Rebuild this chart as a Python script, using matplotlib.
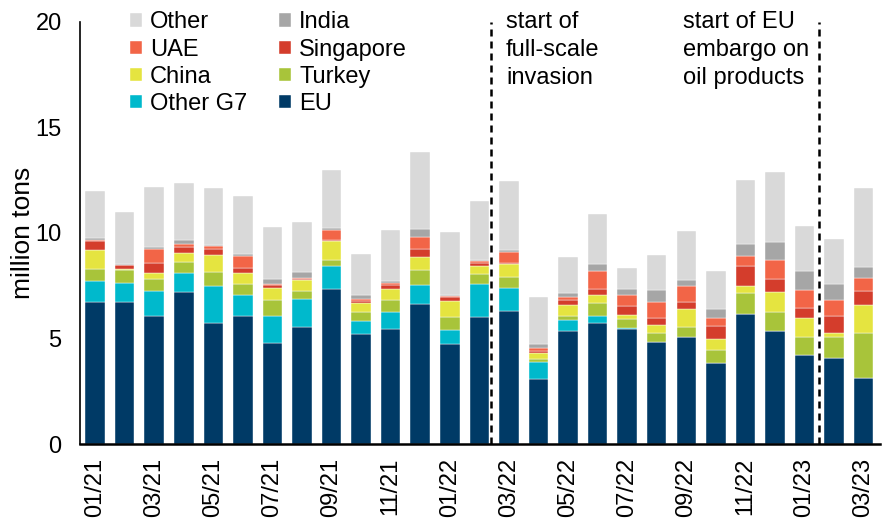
import matplotlib
matplotlib.use("Agg")
import matplotlib.pyplot as plt
import numpy as np

plt.rcParams['font.family'] = ['Liberation Sans', 'DejaVu Sans']
plt.rcParams['font.size'] = 17

months = ["01/21", "02/21", "03/21", "04/21", "05/21", "06/21", "07/21", "08/21", "09/21",
          "10/21", "11/21", "12/21", "01/22", "02/22", "03/22", "04/22", "05/22", "06/22",
          "07/22", "08/22", "09/22", "10/22", "11/22", "12/22", "01/23", "02/23", "03/23"]

# million tons, stacked bottom to top
eu = [6.73, 6.75, 6.08, 7.22, 5.75, 6.08, 4.77, 5.55, 7.36, 5.23, 5.46, 6.62, 4.75, 6.02,
      6.32, 3.08, 5.36, 5.75, 5.45, 4.82, 5.06, 3.82, 6.16, 5.36, 4.23, 4.06, 3.13]
other_g7 = [0.99, 0.9, 1.19, 0.87, 1.75, 0.97, 1.31, 1.32, 1.08, 0.6, 0.81, 0.9, 0.67, 1.56,
            1.07, 0.81, 0.52, 0.33, 0.05, 0.0, 0.0, 0.0, 0.0, 0.0, 0.0, 0.0, 0.0]
turkey = [0.57, 0.6, 0.56, 0.55, 0.64, 0.52, 0.74, 0.38, 0.28, 0.44, 0.55, 0.73, 0.58, 0.49,
          0.54, 0.12, 0.2, 0.6, 0.44, 0.45, 0.5, 0.63, 1.0, 0.9, 0.83, 1.03, 2.13]
china = [0.9, 0.03, 0.29, 0.4, 0.82, 0.55, 0.57, 0.52, 0.9, 0.43, 0.51, 0.6, 0.78, 0.37,
         0.62, 0.29, 0.49, 0.4, 0.17, 0.37, 0.84, 0.51, 0.33, 0.94, 0.9, 0.17, 1.33]
singapore = [0.44, 0.2, 0.47, 0.28, 0.27, 0.21, 0.13, 0.05, 0.05, 0.08, 0.21, 0.41, 0.2, 0.12,
             0.05, 0.11, 0.27, 0.25, 0.44, 0.35, 0.34, 0.63, 0.95, 0.63, 0.47, 0.81, 0.68]
uae = [0.05, 0.0, 0.65, 0.14, 0.15, 0.58, 0.06, 0.05, 0.47, 0.08, 0.09, 0.55, 0.02, 0.09,
       0.5, 0.15, 0.11, 0.87, 0.51, 0.75, 0.75, 0.4, 0.47, 0.89, 0.88, 0.77, 0.58]
india = [0.1, 0.05, 0.11, 0.21, 0.05, 0.09, 0.25, 0.28, 0.1, 0.21, 0.1, 0.36, 0.08, 0.05,
         0.09, 0.19, 0.21, 0.33, 0.29, 0.56, 0.3, 0.41, 0.55, 0.87, 0.9, 0.74, 0.52]
other = [2.2, 2.45, 2.85, 2.71, 2.72, 2.75, 2.47, 2.35, 2.75, 1.93, 2.41, 3.65, 2.95, 2.82,
         3.29, 2.2, 1.69, 2.37, 0.98, 1.64, 2.3, 1.8, 3.05, 3.29, 2.12, 2.14, 3.78]

series = [("EU", eu, "#003A66"), ("Other G7", other_g7, "#00B9CC"), ("Turkey", turkey, "#A8C43A"),
          ("China", china, "#E5E440"), ("Singapore", singapore, "#D43D2C"),
          ("UAE", uae, "#F26547"), ("India", india, "#A6A6A6"), ("Other", other, "#D9D9D9")]

fig = plt.figure(figsize=(8.96, 5.2), dpi=100)
ax = fig.add_axes([0.089, 0.146, 0.893, 0.812])

x = np.arange(len(months))
bottom = np.zeros(len(months))
bars = {}
for name, vals, color in series:
    bars[name] = ax.bar(x, vals, 0.66, bottom=bottom, color=color,
                        edgecolor="white", linewidth=0.3, label=name)
    bottom += np.array(vals)

# event markers
ax.axvline(13.4, color="black", lw=1.8, ls=(0, (2.8, 2)))
ax.axvline(24.5, color="black", lw=1.8, ls=(0, (2.8, 2)))
ax.text(13.9, 20.5, "start of\nfull-scale\ninvasion", va="top", ha="left",
        linespacing=1.33, clip_on=False)
ax.text(19.9, 20.5, "start of EU\nembargo on\noil products", va="top", ha="left",
        linespacing=1.33, clip_on=False)

ax.set_ylim(0, 20)
ax.set_xlim(-0.52, 26.55)
ax.set_yticks([0, 5, 10, 15, 20])
ax.set_xticks(x[::2])
ax.set_xticklabels(months[::2], rotation=90)
ax.tick_params(axis="x", length=0, pad=10)
ax.tick_params(axis="y", length=0, pad=13)
ax.set_ylabel("million tons", fontsize=19, labelpad=0)
ax.spines["top"].set_visible(False)
ax.spines["right"].set_visible(False)
ax.spines["left"].set_linewidth(1.2)
ax.spines["bottom"].set_linewidth(1.8)

order = ["Other", "UAE", "China", "Other G7", "India", "Singapore", "Turkey", "EU"]
ax.legend([bars[n] for n in order], order, ncol=2, loc="upper left",
          bbox_to_anchor=(0.051, 1.047), frameon=False, handlelength=0.5,
          handleheight=0.5, handletextpad=0.35, columnspacing=1.35, labelspacing=0.22,
          borderaxespad=0)

fig.savefig("out.png", dpi=100)
